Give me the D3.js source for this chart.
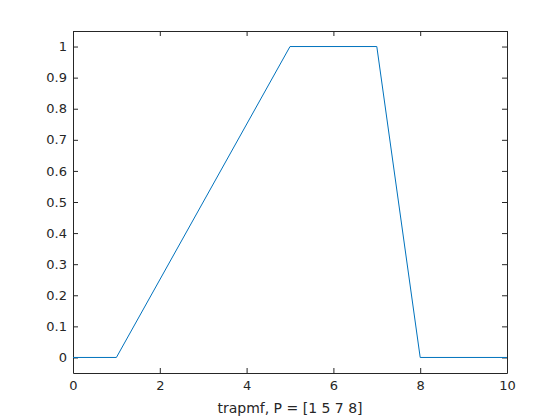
<!DOCTYPE html>
<html>
<head>
<meta charset="utf-8">
<script src="https://cdn.jsdelivr.net/npm/d3@7"></script>
<style>
  body { margin: 0; background: white; }
  text { font-family: "DejaVu Sans", sans-serif; fill: #262626; }
</style>
</head>
<body>
<div class="plot"></div>
<script>
// Data: trapezoid corners, P = [1 5 7 8]
var xVals = [0, 1, 5, 7, 8, 10];
var yVals = [0, 0, 1, 1, 0, 0];
var xTicks = [0, 2, 4, 6, 8, 10];
var yTicks = [0, 0.1, 0.2, 0.3, 0.4, 0.5, 0.6, 0.7, 0.8, 0.9, 1];
var label = "trapmf, P = [1 5 7 8]";

var margin = {top: 31, right: 53, bottom: 47, left: 73},
    outerWidth = 560,
    outerHeight = 420,
    width = outerWidth - margin.left - margin.right,
    height = outerHeight - margin.top - margin.bottom;

var svg = d3.select(".plot").append("svg")
    .attr("width", outerWidth)
    .attr("height", outerHeight);

svg.append("rect")
    .attr("width", "100%")
    .attr("height", "100%")
    .attr("fill", "white");

var canvas = svg.append("g")
    .attr("transform", "translate(" + margin.left + "," + margin.top + ")");

var xScale = d3.scaleLinear().domain([0, 10]).range([0, width]);
var yScale = d3.scaleLinear().domain([-0.05, 1.05]).range([height, 0]);

// Axes with inward ticks
var xAxis = d3.axisBottom(xScale).tickValues(xTicks).tickSizeInner(-5).tickSizeOuter(0).tickPadding(8);
var yAxis = d3.axisLeft(yScale).tickValues(yTicks).tickSizeInner(-5).tickSizeOuter(0).tickPadding(6)
    .tickFormat(d3.format("~g"));

var gx = canvas.append("g")
    .attr("transform", "translate(0," + height + ")")
    .call(xAxis);
var gy = canvas.append("g").call(yAxis);

// top and right box edges with mirrored ticks
var gxTop = canvas.append("g")
    .call(d3.axisTop(xScale).tickValues(xTicks).tickSizeInner(-5).tickSizeOuter(0).tickFormat(""));
var gyRight = canvas.append("g")
    .attr("transform", "translate(" + width + ",0)")
    .call(d3.axisRight(yScale).tickValues(yTicks).tickSizeInner(-5).tickSizeOuter(0).tickFormat(""));

[gx, gy, gxTop, gyRight].forEach(function (g) {
    g.selectAll("path, line").attr("stroke", "#262626").attr("stroke-width", 1);
    g.selectAll("text").attr("font-size", 13).attr("fill", "#262626")
        .attr("font-family", "DejaVu Sans, sans-serif");
});

// Line
var pts = xVals.map(function (x, i) { return [x, yVals[i]]; });
canvas.append("path")
    .datum(pts)
    .attr("fill", "none")
    .attr("stroke", "#0072BD")
    .attr("stroke-width", 1)
    .attr("d", d3.line().x(d => xScale(d[0])).y(d => yScale(d[1])));

// x label
canvas.append("text")
    .attr("text-anchor", "middle")
    .attr("x", width / 2)
    .attr("y", height + 40)
    .attr("font-size", 14)
    .text(label);
</script>
</body>
</html>
